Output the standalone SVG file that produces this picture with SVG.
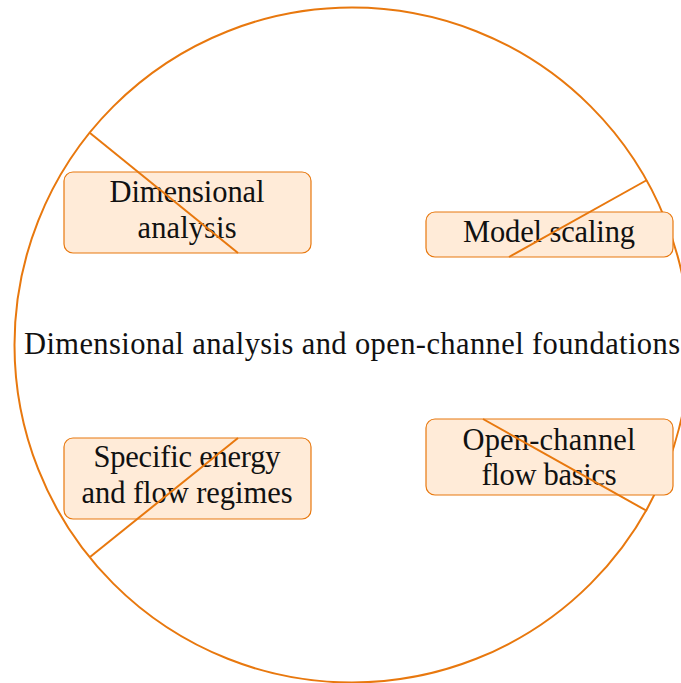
<svg xmlns="http://www.w3.org/2000/svg" width="681" height="683" viewBox="0 0 681 683">
<style>
.bg{fill:#ffffff}
.ring{fill:none;stroke:#E8780E;stroke-width:2}
.box{fill:#FFEBD8;stroke:#E8780E;stroke-width:1.2}
.conn{stroke:#E8780E;stroke-width:2;fill:none}
text{font-family:"Liberation Serif","DejaVu Serif",serif;font-size:30.5px;fill:#111111;text-anchor:middle}
</style>
<rect class="bg" x="0" y="0" width="681" height="683"/>
<g id="ring"><circle class="ring" cx="352" cy="345" r="337.5"/></g>
<g id="title"><text x="352" y="354" textLength="656">Dimensional analysis and open-channel foundations</text></g>
<g id="node-dimensional">
<rect class="box" x="64" y="172" width="247" height="81" rx="9"/>
<text x="187" y="202" textLength="155">Dimensional</text>
<text x="187" y="238" textLength="99">analysis</text>
</g>
<g id="node-model">
<rect class="box" x="426" y="212" width="247" height="45" rx="9"/>
<text x="549" y="242" textLength="172">Model scaling</text>
</g>
<g id="node-specific">
<rect class="box" x="64" y="438" width="247" height="81" rx="9"/>
<text x="187" y="467" textLength="187">Specific energy</text>
<text x="187" y="503" textLength="211">and flow regimes</text>
</g>
<g id="node-open">
<rect class="box" x="426" y="419" width="247" height="76" rx="9"/>
<text x="549" y="450" textLength="173">Open-channel</text>
<text x="549" y="485" textLength="135">flow basics</text>
</g>
<g id="connectors">
<line class="conn" x1="90" y1="133" x2="238" y2="253"/>
<line class="conn" x1="647" y1="180" x2="509" y2="257"/>
<line class="conn" x1="90" y1="557" x2="238" y2="438"/>
<line class="conn" x1="647" y1="511" x2="483" y2="419"/>
</g>
</svg>
